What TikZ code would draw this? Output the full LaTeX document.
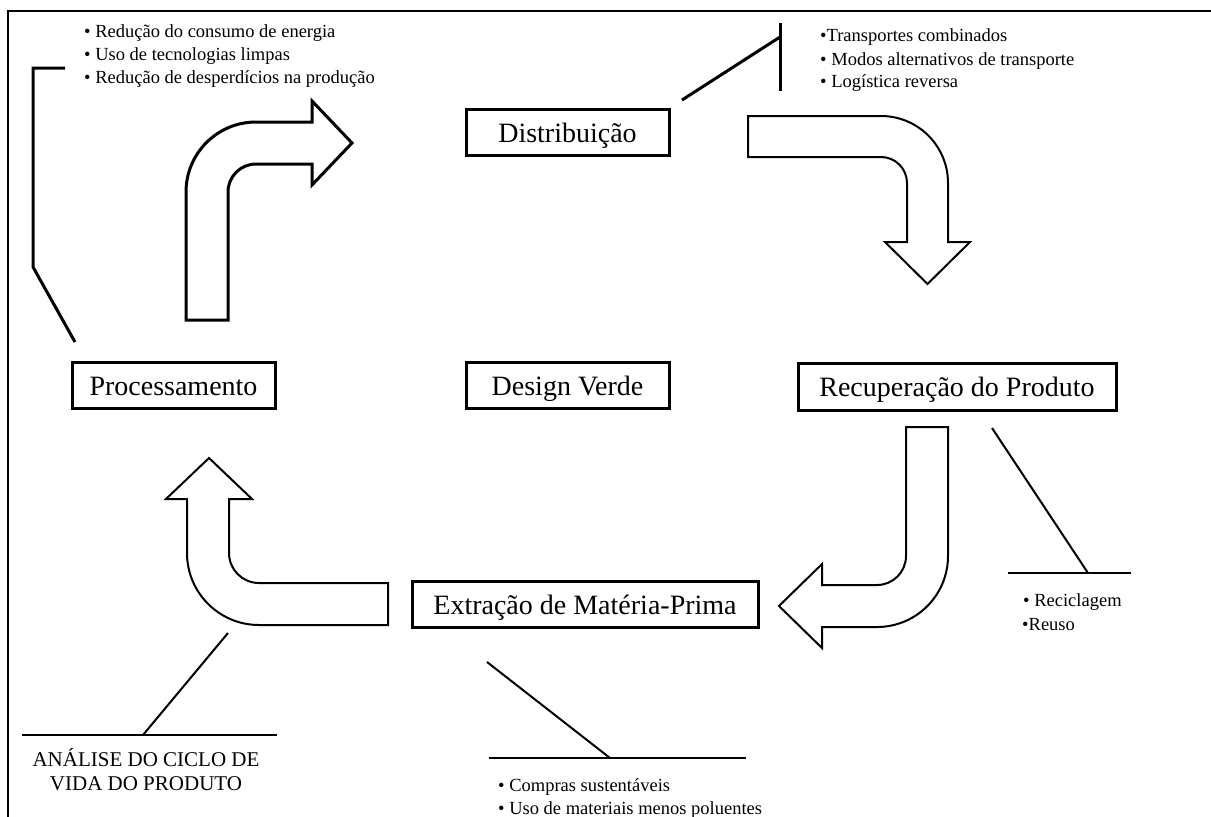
\documentclass[tikz,border=0pt]{standalone}
\usepackage{fontspec}
\setmainfont{Liberation Serif}
\begin{document}
\begin{tikzpicture}[x=1pt,y=-1pt,
  box/.style={draw,line width=3pt,inner sep=0pt,minimum height=46pt,text height=23pt,text depth=3pt,font=\fontsize{28}{32}\selectfont},
  bul/.style={anchor=base west,inner sep=0pt,font=\fontsize{18.5}{22}\selectfont},
  caps/.style={anchor=base,inner sep=0pt,font=\fontsize{21}{24}\selectfont},
  lnA/.style={line width=2pt},
  lnB/.style={line width=3pt},
  arrA/.style={draw,line width=3pt,line join=miter},
  arrB/.style={draw,line width=2pt,line join=miter}]
\useasboundingbox (0,0) rectangle (1211,817);
% frame
\coordinate (fr1) at (1211,11);
\coordinate (fr2) at (8,11);
\coordinate (fr3) at (8,817);
\draw[lnA] (fr1) -- (fr2) -- (fr3);
% boxes
\node[box,minimum width=203pt] (dist) at (567.5,132.5) {Distribuição};
\node[box,minimum width=203pt] (proc) at (173.5,385) {Processamento};
\node[box,minimum width=203pt] (dv) at (567.5,385) {Design Verde};
\node[box,minimum width=318pt,minimum height=47pt] (rec) at (957,386.5) {Recuperação do Produto};
\node[box,minimum width=346pt] (ext) at (585,604) {Extração de Matéria-Prima};
% arrows
\draw[arrA] (186,320) -- (186,192) arc[start angle=180,end angle=270,radius=70]
  -- (312,122) -- (312,101) -- (352,143) -- (312,185) -- (312,164) -- (256,164)
  arc[start angle=270,end angle=180,radius=28] -- (228,320) -- cycle;
\draw[arrB] (748,116) -- (881,116) arc[start angle=-90,end angle=0,radius=67]
  -- (948,242) -- (970,242) -- (927.5,284) -- (885,242) -- (907,242) -- (907,183)
  arc[start angle=0,end angle=-90,radius=26] -- (748,157) -- cycle;
\draw[arrB] (906,427) -- (948,427) -- (948,556) arc[start angle=0,end angle=90,radius=71]
  -- (822,627) -- (822,648) -- (779,606) -- (822,564) -- (822,585) -- (877,585)
  arc[start angle=90,end angle=0,radius=29] -- cycle;
\draw[arrB] (388,583) -- (259,583) arc[start angle=90,end angle=180,radius=30]
  -- (229,499) -- (252,499) -- (209,458) -- (166,499) -- (187,499) -- (187,553)
  arc[start angle=180,end angle=90,radius=72] -- (388,625) -- cycle;
% connector lines
\coordinate (tl1) at (65,68);
\coordinate (tl2) at (33,68);
\coordinate (tl3) at (33,267);
\coordinate (tl4) at (75,342);
\draw[lnB,line join=miter] (tl1) -- (tl2) -- (tl3) -- (tl4);
\coordinate (dl1) at (682,100);
\coordinate (dl2) at (780,37);
\coordinate (dv1) at (780,23);
\coordinate (dv2) at (780,91);
\draw[lnB] (dl1) -- (dl2);
\draw[lnB] (dv1) -- (dv2);
\coordinate (rl1) at (992,428);
\coordinate (rl2) at (1088,573);
\coordinate (rh1) at (1008,573);
\coordinate (rh2) at (1131,573);
\draw[lnA] (rl1) -- (rl2);
\draw[lnA] (rh1) -- (rh2);
\coordinate (el1) at (487,662);
\coordinate (el2) at (610,758);
\coordinate (eh1) at (489,758);
\coordinate (eh2) at (746,758);
\draw[lnA] (el1) -- (el2);
\draw[lnA] (eh1) -- (eh2);
\coordinate (ah1) at (22,735);
\coordinate (ah2) at (277,735);
\coordinate (al1) at (143,735);
\coordinate (al2) at (228,633);
\draw[lnA] (ah1) -- (ah2);
\draw[lnA] (al1) -- (al2);
% texts
\node[bul] (b1) at (84,37) {• Redução do consumo de energia};
\node[bul] (b2) at (84,60) {• Uso de tecnologias limpas};
\node[bul] (b3) at (84,83) {• Redução de desperdícios na produção};
\node[bul] (t1) at (820,41) {•Transportes combinados};
\node[bul] (t2) at (820,65) {• Modos alternativos de transporte};
\node[bul] (t3) at (820,87) {• Logística reversa};
\node[bul] (c1) at (498,791) {• Compras sustentáveis};
\node[bul] (c2) at (498,814) {• Uso de materiais menos poluentes};
\node[bul] (r1) at (1023,606) {• Reciclagem};
\node[bul] (r2) at (1022,630) {•Reuso};
\node[caps] (an1) at (146,766) {ANÁLISE DO CICLO DE};
\node[caps] (an2) at (146,790) {VIDA DO PRODUTO};
\end{tikzpicture}
\end{document}
